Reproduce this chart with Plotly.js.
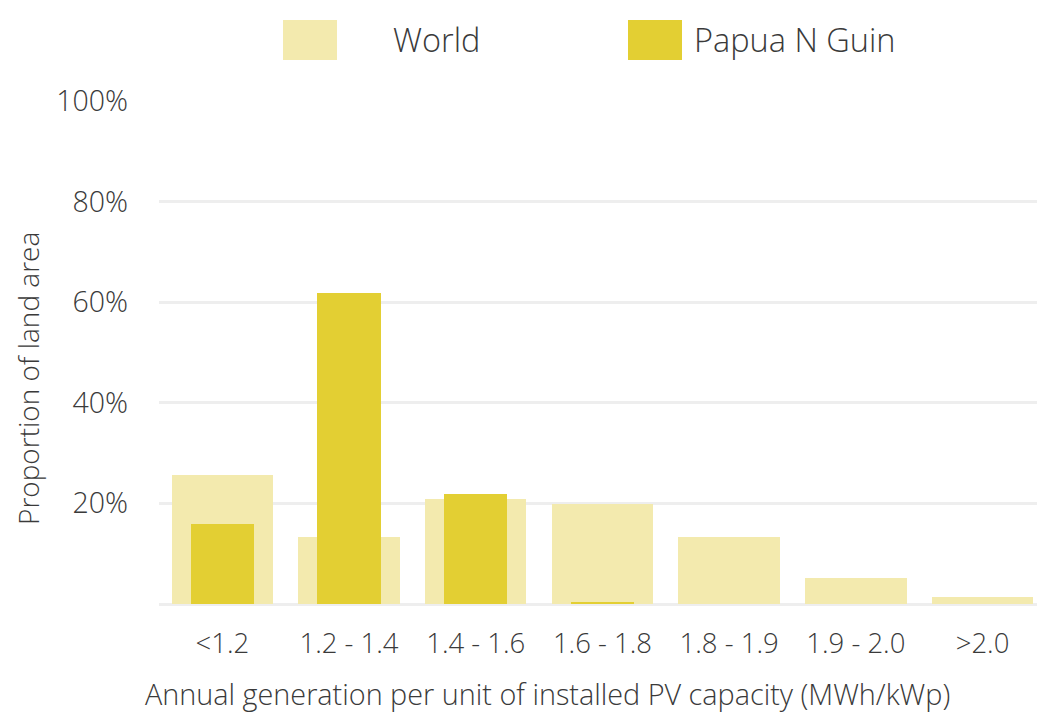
<!DOCTYPE html>
<html>
<head>
<meta charset="utf-8">
<script src="https://cdn.plot.ly/plotly-3.0.1.min.js"></script>
<style>html,body{margin:0;padding:0;background:#fff;}#chart{width:1037px;height:714px;}</style>
</head>
<body>
<div id="chart"></div>
<script>
const categories = ['<1.2', '1.2 - 1.4', '1.4 - 1.6', '1.6 - 1.8', '1.8 - 1.9', '1.9 - 2.0', '>2.0'];
const worldValues = [25.6, 13.3, 20.9, 19.8, 13.3, 5.2, 1.3];
const papuaValues = [16.0, 61.8, 21.9, 0.3, 0, 0, 0];
const seriesNames = ['World', 'Papua N Guin'];
const seriesColors = ['#f3eaae', '#e3cf33'];
const yTickValues = [20, 40, 60, 80, 100];
const yTickLabels = ['20%', '40%', '60%', '80%', '100%'];
const xAxisTitle = 'Annual generation per unit of installed PV capacity (MWh/kWp)';
const yAxisTitle = 'Proportion of land area';

const FONT = 'Open Sans, Lato, sans-serif';
const TEXT = '#3a3a3a';

const traces = [
  {type: 'bar', name: seriesNames[0], x: categories, y: worldValues, width: 0.8,
   marker: {color: seriesColors[0]}, showlegend: false, hoverinfo: 'x+y'},
  {type: 'bar', name: seriesNames[1], x: categories, y: papuaValues, width: 0.5,
   marker: {color: seriesColors[1]}, showlegend: false, hoverinfo: 'x+y'}
];

const legendSwatchX = [283, 628];
const legendTextX = [391, 692];
const shapes = seriesNames.map((n, i) => ({
  type: 'rect', xref: 'paper', yref: 'paper',
  x0: (legendSwatchX[i] - 159) / 878, x1: (legendSwatchX[i] + 54 - 159) / 878,
  y0: (604 - 60) / 503, y1: (604 - 20) / 503,
  fillcolor: seriesColors[i], line: {width: 0}
}));
const annotations = seriesNames.map((n, i) => ({
  xref: 'paper', yref: 'paper', x: (legendTextX[i] - 159) / 878, y: (604 - 40) / 503,
  xanchor: 'left', yanchor: 'middle', text: n, showarrow: false,
  font: {family: FONT, size: 32.5, color: TEXT, weight: 300}
}));
annotations.push({
  xref: 'paper', yref: 'paper', x: (547 - 159) / 878, y: (604 - 693) / 503,
  xanchor: 'center', yanchor: 'middle', text: xAxisTitle, showarrow: false,
  font: {family: FONT, size: 28.8, color: TEXT, weight: 300}
});
annotations.push({
  xref: 'paper', yref: 'paper', x: (28 - 159) / 878, y: (604 - 379) / 503,
  xanchor: 'center', yanchor: 'middle', text: yAxisTitle, showarrow: false, textangle: -90,
  font: {family: FONT, size: 28, color: TEXT, weight: 300}
});

const layout = {
  width: 1037, height: 714,
  margin: {l: 159, r: 0, t: 101, b: 110},
  paper_bgcolor: '#ffffff', plot_bgcolor: '#ffffff',
  barmode: 'overlay', bargap: 0,
  showlegend: false,
  font: {family: FONT, color: TEXT, weight: 300},
  xaxis: {
    type: 'category', range: [-0.5, 6.43], showgrid: false, zeroline: false,
    showline: false, ticks: '', ticklabelstandoff: 20,
    tickfont: {family: FONT, size: 27.5, color: TEXT, weight: 300}
  },
  yaxis: {
    range: [0, 100], tickvals: yTickValues, ticktext: yTickLabels,
    showgrid: true, gridcolor: '#eeeeee', gridwidth: 3,
    zeroline: true, zerolinecolor: '#eeeeee', zerolinewidth: 3,
    showline: false, ticks: '', ticklabelstandoff: 30,
    tickfont: {family: FONT, size: 28.5, color: TEXT, weight: 300}
  },
  shapes: shapes,
  annotations: annotations
};

Plotly.newPlot('chart', traces, layout, {displayModeBar: false, staticPlot: true});
</script>
</body>
</html>
